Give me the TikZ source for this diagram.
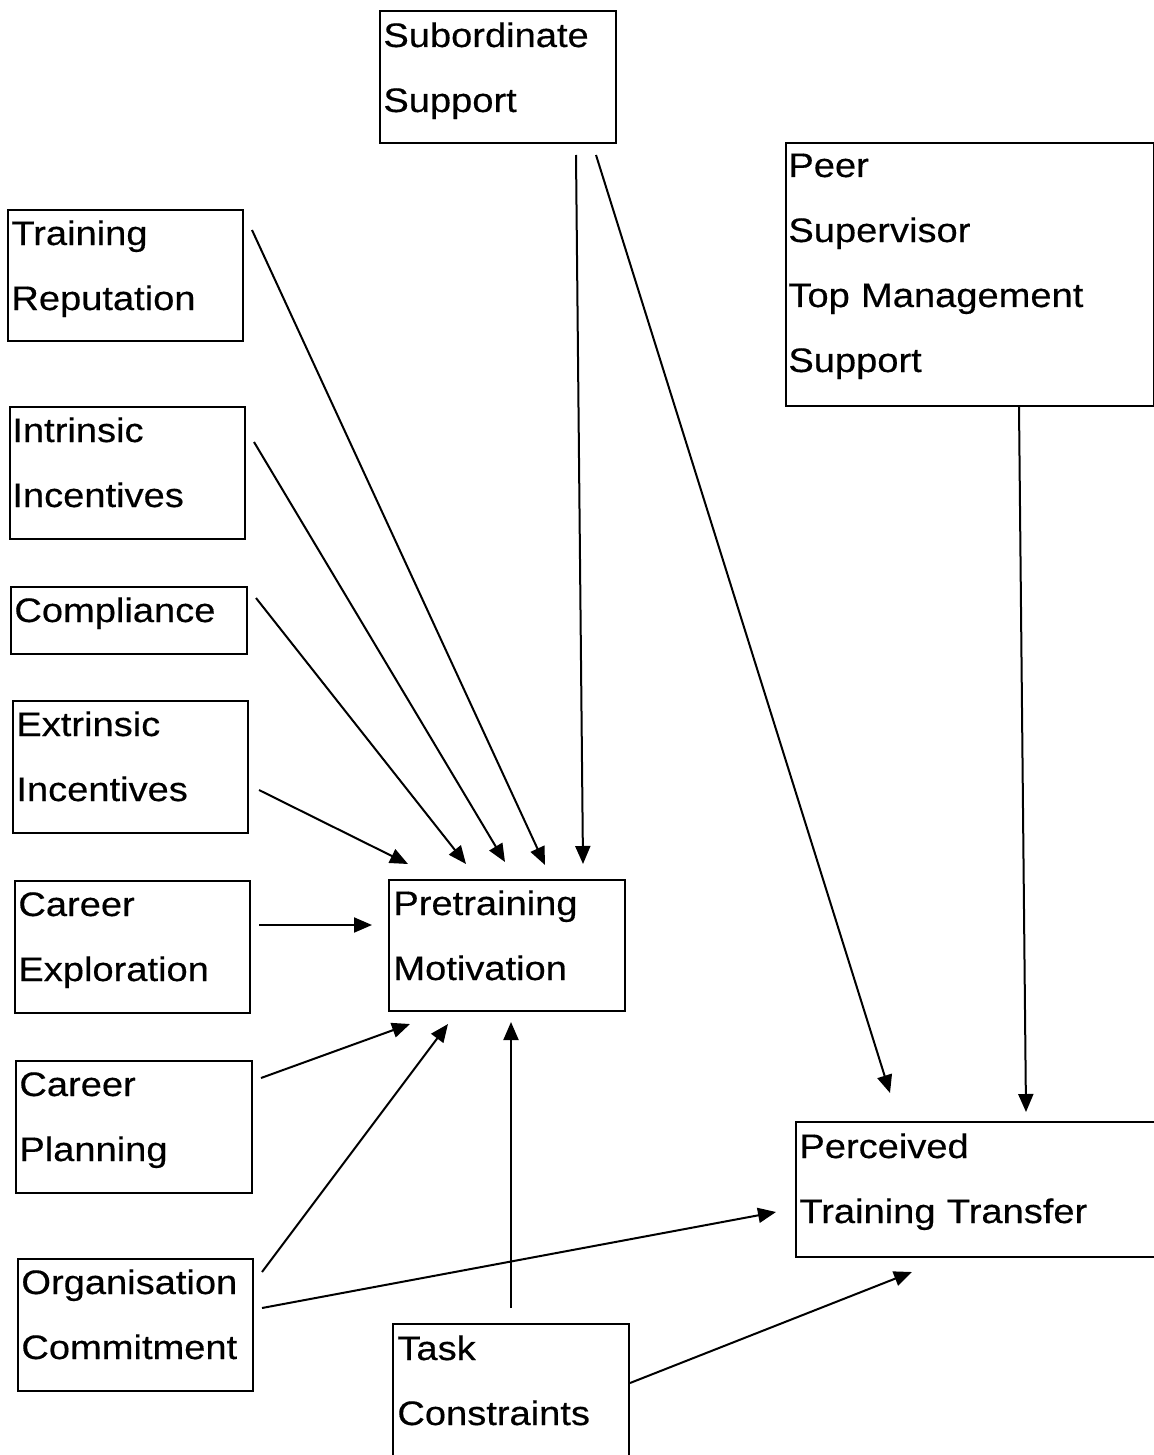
\documentclass[tikz,border=0pt]{standalone}
\usepackage{fontspec}
\setmainfont{Liberation Sans}[FakeStretch=1.12,FakeBold=0.4]
\usetikzlibrary{arrows.meta,calc}
\begin{document}
\begin{tikzpicture}[x=0.5pt,y=-0.5pt,
  box/.style={draw, line width=1pt, inner sep=0pt, anchor=north west},
  txt/.style={anchor=base west, align=left, text width=190pt, inner sep=0pt,
    font=\fontsize{17pt}{32.5pt}\selectfont},
  arr/.style={line width=1pt, -{Triangle[length=9pt,width=7.5pt]}}]
\useasboundingbox (0,0) rectangle (1154,1455);
% boxes
\node[box, minimum width=118pt, minimum height=66pt] (ss) at (379,10) {};
\node[box, minimum width=184pt, minimum height=131.5pt] (pst) at (785,142) {};
\node[box, minimum width=117.5pt, minimum height=65.5pt] (tr) at (7,209) {};
\node[box, minimum width=117.5pt, minimum height=66pt] (ii) at (9,406) {};
\node[box, minimum width=118pt, minimum height=33.5pt] (co) at (10,586) {};
\node[box, minimum width=117.5pt, minimum height=66pt] (ei) at (12,700) {};
\node[box, minimum width=117.5pt, minimum height=66pt] (ce) at (14,880) {};
\node[box, minimum width=118pt, minimum height=65.5pt] (pm) at (388,879) {};
\node[box, minimum width=118pt, minimum height=66pt] (cp) at (15,1060) {};
\node[box, minimum width=117.5pt, minimum height=66pt] (oc) at (17,1258) {};
\node[box, minimum width=200pt, minimum height=67.5pt] (ptt) at (795,1121) {};
\node[box, minimum width=118pt, minimum height=75pt] (tc) at (392,1323) {};
% texts
\node[txt] (ss-t) at ([shift={(4,37)}]ss.north west) {Subordinate\\Support};
\node[txt] (pst-t) at ([shift={(3,35)}]pst.north west) {Peer\\Supervisor\\Top Management\\Support};
\node[txt] (tr-t) at ([shift={(4,36)}]tr.north west) {Training\\Reputation};
\node[txt] (ii-t) at ([shift={(3,36)}]ii.north west) {Intrinsic\\Incentives};
\node[txt] (co-t) at ([shift={(4,36)}]co.north west) {Compliance};
\node[txt] (ei-t) at ([shift={(4,36)}]ei.north west) {Extrinsic\\Incentives};
\node[txt] (ce-t) at ([shift={(4,36)}]ce.north west) {Career\\Exploration};
\node[txt] (pm-t) at ([shift={(5,36)}]pm.north west) {Pretraining\\Motivation};
\node[txt] (cp-t) at ([shift={(4,36)}]cp.north west) {Career\\Planning};
\node[txt] (oc-t) at ([shift={(4,36)}]oc.north west) {Organisation\\Commitment};
\node[txt] (ptt-t) at ([shift={(4,37)}]ptt.north west) {Perceived\\Training Transfer};
\node[txt] (tc-t) at ([shift={(5,37)}]tc.north west) {Task\\Constraints};
% connectors
\draw[arr] ([shift={(8,21)}]tr.north east) -- ([shift={(157,-14)}]pm.north west);
\draw[arr] ([shift={(8,36)}]ii.north east) -- ([shift={(117,-17)}]pm.north west);
\draw[arr] ([shift={(8,12)}]co.north east) -- ([shift={(78,-15)}]pm.north west);
\draw[arr] ([shift={(10,90)}]ei.north east) -- ([shift={(20,-15)}]pm.north west);
\draw[arr] ([shift={(8,45)}]ce.north east) -- ([shift={(-16,46)}]pm.north west);
\draw[arr] ([shift={(8,18)}]cp.north east) -- ([shift={(22,12)}]pm.south west);
\draw[arr] ([shift={(8,14)}]oc.north east) -- ([shift={(60,12)}]pm.south west);
\draw[arr] ([shift={(119,-15)}]tc.north west) -- ([shift={(123,10)}]pm.south west);
\draw[arr] ([shift={(197,11)}]ss.south west) -- ([shift={(195,-15)}]pm.north west);
\draw[arr] ([shift={(217,11)}]ss.south west) -- ([shift={(95,-28)}]ptt.north west);
\draw[arr] ([shift={(234,0)}]pst.south west) -- ([shift={(231,-9)}]ptt.north west);
\draw[arr] ([shift={(8,50)}]oc.north east) -- ([shift={(-19,91)}]ptt.north west);
\draw[arr] ([shift={(0,60)}]tc.north east) -- ([shift={(117,14)}]ptt.south west);
\end{tikzpicture}
\end{document}
